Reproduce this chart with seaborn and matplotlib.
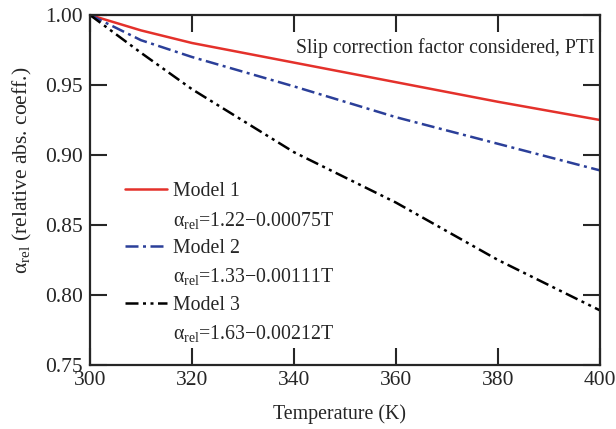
import numpy as np
import pandas as pd
import matplotlib
matplotlib.use("Agg")
import matplotlib.pyplot as plt
import seaborn as sns
from matplotlib.lines import Line2D

# ===================== DATOS =====================
temperature = [300, 310, 320, 340, 360, 380, 400]
model1 = [1.000, 0.989, 0.980, 0.966, 0.952, 0.938, 0.925]
model2 = [1.000, 0.982, 0.970, 0.949, 0.927, 0.908, 0.889]
model3 = [1.000, 0.973, 0.947, 0.902, 0.866, 0.825, 0.789]
model_names = ["Model 1", "Model 2", "Model 3"]
equations = ["α$_{\\rm rel}$=1.22−0.00075T",
             "α$_{\\rm rel}$=1.33−0.00111T",
             "α$_{\\rm rel}$=1.63−0.00212T"]
x_ticks = [300, 320, 340, 360, 380, 400]
y_ticks = [0.75, 0.80, 0.85, 0.90, 0.95, 1.00]

df = pd.DataFrame({
    "T": temperature * 3,
    "alpha": model1 + model2 + model3,
    "model": np.repeat(model_names, len(temperature)),
})

# ===================== ESTILO =====================
sns.set_style("ticks")
plt.rcParams["font.family"] = ["Liberation Serif", "DejaVu Serif"]
plt.rcParams["mathtext.fontset"] = "custom"
plt.rcParams["mathtext.rm"] = "Liberation Serif"
plt.rcParams["mathtext.it"] = "Liberation Serif:italic"
plt.rcParams["axes.linewidth"] = 1.6

colores = {"Model 1": "#e4312b", "Model 2": "#2b3f99", "Model 3": "#000000"}
guiones = {"Model 1": "", "Model 2": (5.2, 1.8, 1.2, 1.8),
           "Model 3": (5.2, 1.8, 1.2, 1.8, 1.2, 1.8)}

fig, ax = plt.subplots(figsize=(6.16, 4.29), dpi=100)
fig.subplots_adjust(left=90 / 616, right=600 / 616, bottom=1 - 365 / 429,
                    top=1 - 15 / 429)

sns.lineplot(data=df, x="T", y="alpha", hue="model", style="model",
             palette=colores, dashes=guiones, linewidth=1.8, ax=ax,
             legend=False)

ax.set_xlim(300, 400)
ax.set_ylim(0.75, 1.00)
ax.set_xticks(x_ticks)
ax.set_yticks(y_ticks)
ax.set_yticklabels([f"{v:.2f}" for v in y_ticks])
ax.tick_params(direction="in", length=12.5, width=1.5, labelsize=15.5,
               top=True, right=True, pad=4)
ax.tick_params(axis="y", pad=5)

ax.set_xlabel("Temperature (K)", fontsize=14.3)
ax.xaxis.set_label_coords(0.49, -0.112)
ax.set_ylabel("α$_{\\rm rel}$ (relative abs. coeff.)", fontsize=15.5)
ax.yaxis.set_label_coords(-0.11, 0.555)

ax.text(0.99, 0.906, "Slip correction factor considered, PTI",
        transform=ax.transAxes, ha="right", va="center", fontsize=14.2)

# leyenda con la ecuación debajo de cada modelo
lineas = ax.get_lines()
vacio = Line2D([], [], linestyle="none")
handles = []
labels = []
for i, nombre in enumerate(model_names):
    handles += [lineas[i], vacio]
    labels += [nombre, equations[i]]
ax.legend(handles, labels, loc="upper left", bbox_to_anchor=(0.069, 0.522),
          frameon=False, fontsize=14.3, handlelength=2.1, handletextpad=0.3,
          labelspacing=0.42, borderaxespad=0, borderpad=0)

plt.savefig("out.png", dpi=100)
